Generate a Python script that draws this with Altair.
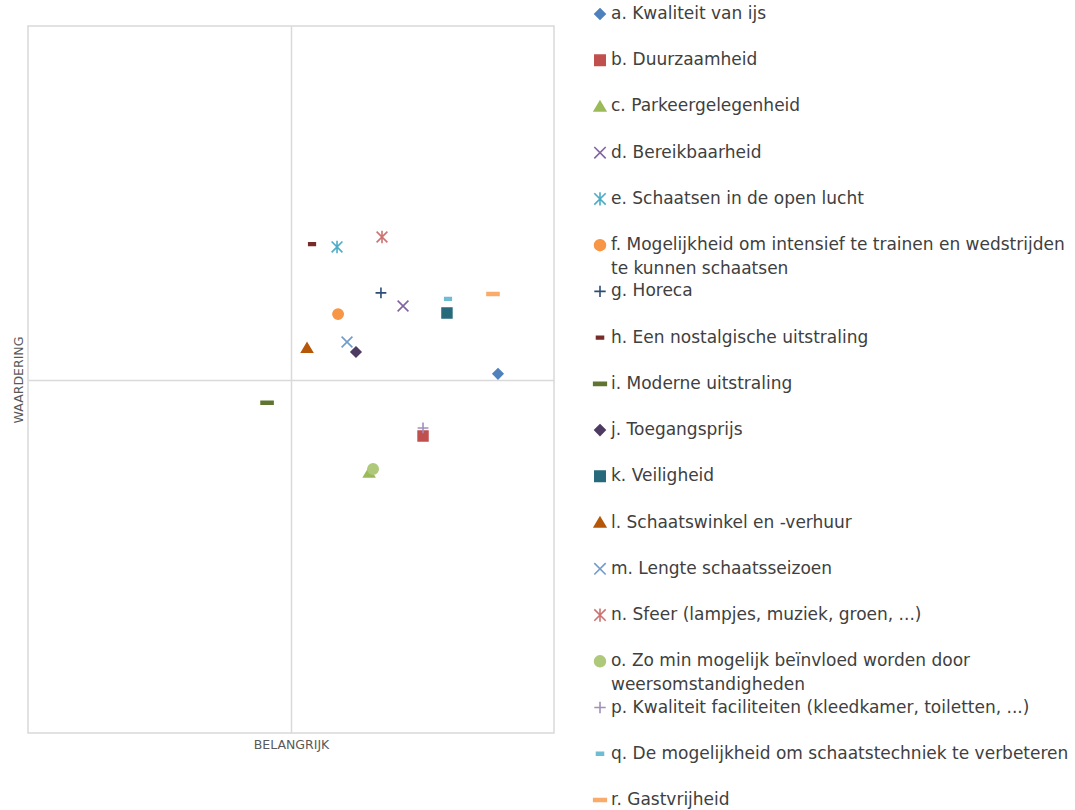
import altair as alt
import pandas as pd

codes = list("abcdefghijklmnopqr")
labels = [
    "a. Kwaliteit van ijs",
    "b. Duurzaamheid",
    "c. Parkeergelegenheid",
    "d. Bereikbaarheid",
    "e. Schaatsen in de open lucht",
    "f. Mogelijkheid om intensief te trainen en wedstrijden\nte kunnen schaatsen",
    "g. Horeca",
    "h. Een nostalgische uitstraling",
    "i. Moderne uitstraling",
    "j. Toegangsprijs",
    "k. Veiligheid",
    "l. Schaatswinkel en -verhuur",
    "m. Lengte schaatsseizoen",
    "n. Sfeer (lampjes, muziek, groen, ...)",
    "o. Zo min mogelijk beïnvloed worden door\nweersomstandigheden",
    "p. Kwaliteit faciliteiten (kleedkamer, toiletten, ...)",
    "q. De mogelijkheid om schaatstechniek te verbeteren",
    "r. Gastvrijheid",
]
belangrijk = [0.787, 0.502, 0.297, 0.426, 0.175, 0.179, 0.342, 0.080, -0.091,
              0.247, 0.593, 0.061, 0.213, 0.346, 0.312, 0.502, 0.597, 0.768]
waardering = [0.016, -0.160, -0.264, 0.208, 0.375, 0.185, 0.245, 0.383, -0.066,
              0.078, 0.188, 0.089, 0.106, 0.403, -0.253, -0.137, 0.228, 0.242]

colors = ["#4F81BD", "#C0504D", "#9BBB59", "#8064A2", "#4BACC6", "#F79646",
          "#2C4D75", "#772C2A", "#5F7530", "#4D3B62", "#276A7C", "#B65708",
          "#729ACA", "#CD7371", "#AFC97A", "#A18FBB", "#6FBDD1", "#F9AB6B"]

DIAMOND = "M0,-0.82L0.82,0L0,0.82L-0.82,0Z"
SQUARE = "M-0.82,-0.82L0.82,-0.82L0.82,0.82L-0.82,0.82Z"
TRIANGLE = "M0,-0.82L0.9,0.7L-0.9,0.7Z"
XMARK = "M-0.9,-0.9L0.9,0.9M0.9,-0.9L-0.9,0.9"
ASTER = "M-0.9,-0.9L0.9,0.9M0.9,-0.9L-0.9,0.9M0,-1.05L0,1.05"
CIRCLE = "M0.86,0A0.86,0.86,0,1,1,-0.86,0A0.86,0.86,0,1,1,0.86,0Z"
PLUS = "M-0.9,0L0.9,0M0,-0.9L0,0.9"
DASH_S = "M-0.55,-0.22L0.55,-0.22L0.55,0.22L-0.55,0.22Z"
DASH_L = "M-1,-0.24L1,-0.24L1,0.24L-1,0.24Z"

shapes = [DIAMOND, SQUARE, TRIANGLE, XMARK, ASTER, CIRCLE,
          PLUS, DASH_S, DASH_L, DIAMOND, SQUARE, TRIANGLE,
          XMARK, ASTER, CIRCLE, PLUS, DASH_S, DASH_L]
open_shapes = {XMARK, ASTER, PLUS}
fills = ["transparent" if s in open_shapes else c for s, c in zip(shapes, colors)]

df = pd.DataFrame({"code": codes, "label": labels, "x": belangrijk, "y": waardering})

shape_scale = alt.Scale(domain=codes, range=shapes)
fill_scale = alt.Scale(domain=codes, range=fills)
stroke_scale = alt.Scale(domain=codes, range=colors)

FONT = "DejaVu Sans"
GRID = "#D9D9D9"

main = alt.Chart(df).mark_point(filled=True, size=144, strokeWidth=1.6, opacity=1).encode(
    x=alt.X("x:Q", scale=alt.Scale(domain=[-1, 1], nice=False, zero=False),
            axis=alt.Axis(values=[0], grid=True, gridColor=GRID, gridWidth=1.5,
                          labels=False, ticks=False, domain=False,
                          title="BELANGRIJK", titleFont=FONT, titleFontSize=12.5,
                          titleFontWeight="normal", titleColor="#595959",
                          titlePadding=5)),
    y=alt.Y("y:Q", scale=alt.Scale(domain=[-1, 1], nice=False, zero=False),
            axis=alt.Axis(values=[0], grid=True, gridColor=GRID, gridWidth=1.5,
                          labels=False, ticks=False, domain=False,
                          title="WAARDERING", titleFont=FONT, titleFontSize=12.5,
                          titleFontWeight="normal", titleColor="#595959",
                          titlePadding=3)),
    shape=alt.Shape("code:N", scale=shape_scale, legend=None),
    fill=alt.Fill("code:N", scale=fill_scale, legend=None),
    stroke=alt.Stroke("code:N", scale=stroke_scale, legend=None),
).properties(
    width=526, height=707,
    view=alt.ViewBackground(stroke=GRID, strokeWidth=1.5),
)

leg_y = alt.Y("code:N", sort=codes,
              scale=alt.Scale(type="point", padding=0, range=[-12, 774]), axis=None)

leg_pts = alt.Chart(df).mark_point(filled=True, size=160, strokeWidth=1.6, opacity=1).encode(
    y=leg_y,
    shape=alt.Shape("code:N", scale=shape_scale, legend=None),
    fill=alt.Fill("code:N", scale=fill_scale, legend=None),
    stroke=alt.Stroke("code:N", scale=stroke_scale, legend=None),
)
leg_txt = alt.Chart(df).mark_text(align="left", baseline="middle", dx=11,
                                  font=FONT, fontSize=17, color="#404040",
                                  lineBreak="\n", lineHeight=24).encode(
    y=leg_y,
    text="label:N",
)
legend = alt.layer(leg_pts, leg_txt).properties(
    width=10, height=786, view=alt.ViewBackground(stroke=None))

chart = alt.hconcat(main, legend, spacing=35).properties(
    padding={"left": 11, "top": 5, "right": 0, "bottom": 0},
    background="white",
).configure_view(stroke=None)

chart.save("out.html", embed_options={"renderer": "svg", "actions": False})
